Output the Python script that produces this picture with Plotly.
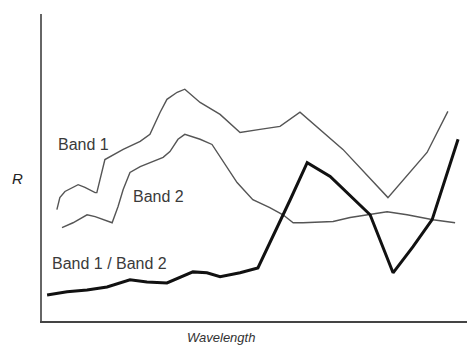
import plotly.graph_objects as go

# Wavelength positions (arbitrary units) and reflectance values for each curve
band1_x = [3.5, 4.2, 5.4, 8.5, 10.1, 12.5, 12.9, 14.8, 19.1, 23.1, 25.4, 27.8, 29.4,
           31.8, 33.6, 37.2, 41.9, 46.6, 51.3, 56.0, 60.7, 65.4, 70.8, 81.4, 86.6,
           90.6, 95.5]
band1_y = [36.3, 40.2, 42.2, 44.4, 43.5, 41.8, 41.8, 52.6, 55.9, 58.5, 60.8, 68.0, 72.2,
           74.5, 75.5, 71.2, 67.3, 61.4, 62.4, 63.4, 68.0, 62.4, 55.9, 40.2, 48.4,
           54.9, 68.3]

band2_x = [4.7, 7.3, 10.6, 12.5, 16.5, 17.9, 19.1, 20.7, 23.1, 25.4, 28.5, 30.1, 32.0,
           33.6, 37.2, 40.0, 42.6, 45.9, 49.6, 53.6, 56.7, 59.1, 61.4, 68.5, 72.5,
           76.5, 81.2, 85.9, 92.0, 97.2]
band2_y = [30.4, 32.0, 34.6, 34.0, 32.0, 37.3, 42.8, 48.4, 50.3, 51.6, 53.3, 55.2, 59.2,
           60.8, 59.2, 57.5, 52.0, 45.1, 39.5, 36.9, 34.6, 32.0, 32.0, 32.4, 33.7,
           34.6, 35.6, 34.6, 33.0, 32.0]

ratio_x = [1.2, 5.9, 10.6, 15.3, 20.7, 24.7, 29.4, 32.5, 35.5, 38.8, 41.9, 46.6, 50.8,
           58.4, 62.4, 67.8, 71.8, 77.2, 82.6, 87.3, 91.8, 97.9]
ratio_y = [8.5, 9.5, 10.1, 11.1, 13.4, 12.7, 12.4, 14.1, 16.0, 15.7, 14.4, 15.7, 17.3,
           39.5, 51.6, 47.1, 41.8, 34.6, 15.7, 24.2, 33.0, 59.2]

curve_names = ["Band 1", "Band 2", "Band 1 / Band 2"]

fig = go.Figure()
fig.add_trace(go.Scatter(x=band1_x, y=band1_y, mode="lines", name=curve_names[0],
                         line=dict(color="#555555", width=1.4)))
fig.add_trace(go.Scatter(x=band2_x, y=band2_y, mode="lines", name=curve_names[1],
                         line=dict(color="#555555", width=1.4)))
fig.add_trace(go.Scatter(x=ratio_x, y=ratio_y, mode="lines", name=curve_names[2],
                         line=dict(color="#111111", width=3)))

label_font = dict(family="Liberation Sans, Arial, sans-serif", size=16, color="#3a3a3a")
fig.add_annotation(x=9.8, y=57.5, text=curve_names[0], showarrow=False,
                   xanchor="center", yanchor="middle", font=label_font)
fig.add_annotation(x=27.3, y=40.5, text=curve_names[1], showarrow=False,
                   xanchor="center", yanchor="middle", font=label_font)
fig.add_annotation(x=15.8, y=18.6, text=curve_names[2], showarrow=False,
                   xanchor="center", yanchor="middle", font=label_font)

# Axis titles
fig.add_annotation(xref="paper", yref="paper", x=-0.058, y=0.464, text="<i>R</i>",
                   showarrow=False, xanchor="center", yanchor="middle",
                   font=dict(family="Liberation Sans, Arial, sans-serif", size=15, color="#222222"))
fig.add_annotation(xref="paper", yref="paper", x=0.422, y=-0.055, text="<i>Wavelength</i>",
                   showarrow=False, xanchor="center", yanchor="middle",
                   font=dict(family="Liberation Sans, Arial, sans-serif", size=13, color="#333333"))

fig.update_layout(
    width=467, height=347,
    margin=dict(l=42, r=0, t=14, b=26),
    plot_bgcolor="white", paper_bgcolor="white",
    showlegend=False,
    xaxis=dict(range=[0, 100], showgrid=False, zeroline=False, showticklabels=False,
               ticks="", showline=True, linecolor="#444444", linewidth=2.2),
    yaxis=dict(range=[0, 100], showgrid=False, zeroline=False, showticklabels=False,
               ticks="", showline=True, linecolor="#666666", linewidth=2),
)

fig.write_html("out.html")
